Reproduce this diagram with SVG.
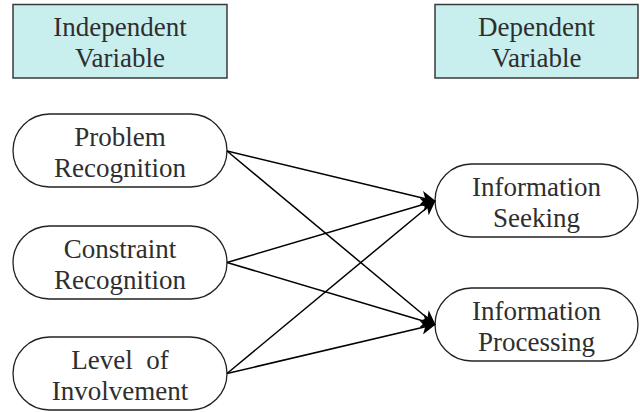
<svg xmlns="http://www.w3.org/2000/svg" width="640" height="412" viewBox="0 0 640 412">
<style>
.hdr{fill:#c8eeee;stroke:#3a3a3a;stroke-width:1.5}
.pill{fill:#fff;stroke:#222;stroke-width:1.3}
.t{font-family:'Liberation Serif','DejaVu Serif','Noto Serif',serif;font-size:27px;fill:#2e2e2e;text-anchor:middle}
.edge{stroke:#000;stroke-width:1.5;fill:none}
</style>
<defs>
<marker id="ah" markerUnits="userSpaceOnUse" markerWidth="16" markerHeight="14" refX="14" refY="7" orient="auto">
<path d="M0,0 L15,7 L0,14 L4,7 z" fill="#000"/>
</marker>
</defs>
<rect width="640" height="412" fill="#fff"/>
<g id="independent-variable">
<rect class="hdr" x="13" y="4.5" width="214" height="73.5"/>
<text class="t" x="120" y="36">Independent</text>
<text class="t" x="120" y="67">Variable</text>
</g>
<g id="dependent-variable">
<rect class="hdr" x="435" y="4.5" width="203" height="73.5"/>
<text class="t" x="536.5" y="36">Dependent</text>
<text class="t" x="536.5" y="67">Variable</text>
</g>
<g id="problem-recognition">
<rect class="pill" x="13" y="114" width="214" height="73" rx="36.5" ry="36.5"/>
<text class="t" x="120" y="146">Problem</text>
<text class="t" x="120" y="177">Recognition</text>
</g>
<g id="constraint-recognition">
<rect class="pill" x="13" y="226" width="214" height="73" rx="36.5" ry="36.5"/>
<text class="t" x="120" y="258">Constraint</text>
<text class="t" x="120" y="289">Recognition</text>
</g>
<g id="level-of-involvement">
<rect class="pill" x="13" y="337" width="214" height="73" rx="36.5" ry="36.5"/>
<text class="t" x="120" y="369" style="white-space:pre">Level  of</text>
<text class="t" x="120" y="400">Involvement</text>
</g>
<g id="information-seeking">
<rect class="pill" x="435" y="164" width="203" height="73" rx="36.5" ry="36.5"/>
<text class="t" x="536.5" y="196">Information</text>
<text class="t" x="536.5" y="227">Seeking</text>
</g>
<g id="information-processing">
<rect class="pill" x="435" y="288" width="203" height="73" rx="36.5" ry="36.5"/>
<text class="t" x="536.5" y="320">Information</text>
<text class="t" x="536.5" y="351">Processing</text>
</g>
<g id="connectors">
<line class="edge" x1="227" y1="151" x2="435" y2="201" marker-end="url(#ah)"/>
<line class="edge" x1="227" y1="151" x2="435" y2="324.5" marker-end="url(#ah)"/>
<line class="edge" x1="227" y1="262.5" x2="435" y2="201" marker-end="url(#ah)"/>
<line class="edge" x1="227" y1="262.5" x2="435" y2="324.5" marker-end="url(#ah)"/>
<line class="edge" x1="227" y1="373.5" x2="435" y2="201" marker-end="url(#ah)"/>
<line class="edge" x1="227" y1="373.5" x2="435" y2="324.5" marker-end="url(#ah)"/>
</g>
</svg>
